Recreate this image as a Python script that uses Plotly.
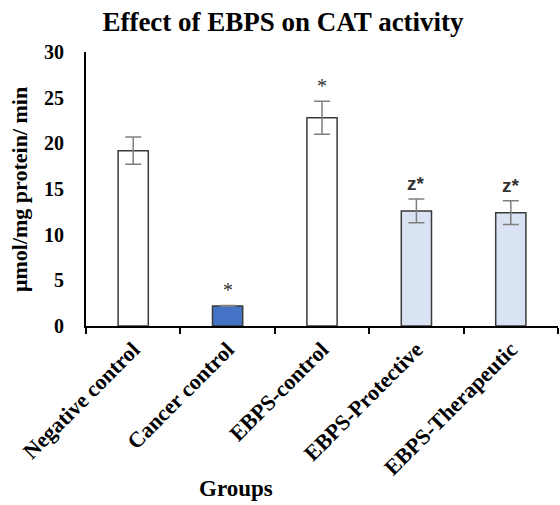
import plotly.graph_objects as go

groups = ["Negative control", "Cancer control", "EBPS-control", "EBPS-Protective", "EBPS-Therapeutic"]
values = [19.2, 2.2, 22.8, 12.6, 12.4]
errors = [1.5, 0.05, 1.8, 1.3, 1.3]
sig_labels = ["", "*", "*", "z*", "z*"]
colors = ["#FFFFFF", "#4472C4", "#FFFFFF", "#DAE3F3", "#DAE3F3"]
y_ticks = [0, 5, 10, 15, 20, 25, 30]

FONT = "Liberation Serif"
L, R, T, B = 86, 2, 52, 179
W, H = 560, 505
PW, PH = W - L - R, H - T - B

fig = go.Figure()
fig.add_trace(go.Bar(
    x=groups, y=values, width=0.32,
    marker=dict(color=colors, line=dict(color="#3A3A3A", width=1.5)),
    error_y=dict(type="data", array=errors, color="#7F7F7F", thickness=1.5, width=8),
    showlegend=False,
))

for g, v, e, s in zip(groups, values, errors, sig_labels):
    if not s:
        continue
    z = "z" in s
    fig.add_annotation(x=g, y=v + e, yref="y", xref="x", text=f"<b>{s}</b>" if z else s,
                       showarrow=False, yanchor="bottom", yshift=3 if z else 2,
                       font=dict(family="Liberation Sans" if z else FONT,
                                 size=19 if z else 20, color="#333333"))

fig.add_annotation(x=(236 - L) / PW, y=-(488 - (H - B)) / PH,
                   xref="paper", yref="paper", xanchor="center", yanchor="middle",
                   text="<b>Groups</b>",
                   showarrow=False, font=dict(family=FONT, size=23, color="black"))

fig.add_annotation(x=-(L - 20) / PW, y=((H - B) - 190) / PH,
                   xref="paper", yref="paper", xanchor="center", yanchor="middle",
                   text="<b>μmol/mg protein/ min</b>",
                   textangle=-90, showarrow=False,
                   font=dict(family=FONT, size=22, color="black"))

fig.update_layout(
    width=W, height=H,
    margin=dict(l=L, r=R, t=T, b=B, autoexpand=False),
    paper_bgcolor="white", plot_bgcolor="white",
    title=dict(text="<b>Effect of EBPS on CAT activity</b>", x=283 / W, xanchor="center",
               y=1 - 22 / H, yanchor="middle", font=dict(family=FONT, size=27, color="black")),
    xaxis=dict(
        automargin=False,
        showline=True, linecolor="black", linewidth=2,
        ticks="outside", tickson="boundaries", ticklen=6, tickwidth=2, tickcolor="black",
        tickangle=-45, tickfont=dict(family=FONT, size=22, color="black"),
        tickvals=groups, ticktext=[f"<b>{g}</b>" for g in groups],
        range=[-0.5, 4.5], showgrid=False,
    ),
    yaxis=dict(
        automargin=False,
        range=[0, 30], tickvals=y_ticks, ticktext=[f"<b>{t}</b>" for t in y_ticks],
        showline=True, linecolor="black", linewidth=2,
        ticks="", showgrid=False, zeroline=False,
        tickfont=dict(family=FONT, size=20, color="black"),
        ticklabelstandoff=16,
    ),
)

fig.write_html("out.html", config={"displayModeBar": False},
               post_script="document.body.style.margin='0';")
